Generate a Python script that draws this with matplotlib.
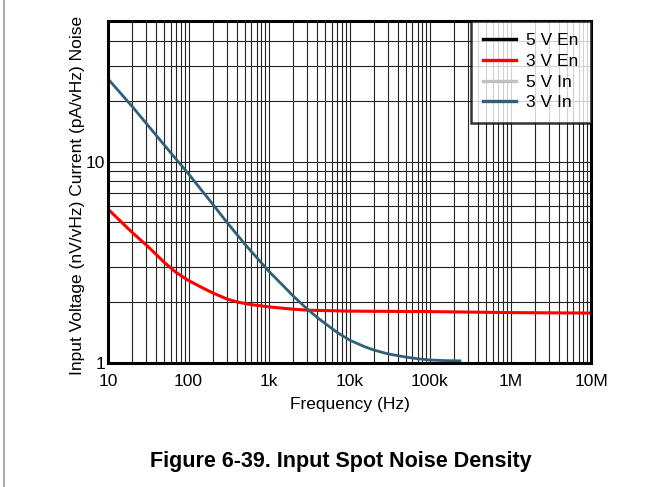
import matplotlib
matplotlib.use("Agg")
import matplotlib.pyplot as plt
from matplotlib.lines import Line2D
from matplotlib.ticker import FixedLocator, LogLocator, NullFormatter

plt.rcParams['font.family'] = ['Liberation Sans', 'DejaVu Sans']

# curves
f_en3 = [10, 15, 20, 30, 40, 50, 70, 100, 150, 200, 300, 400, 600, 1000, 2000, 3000,
         10000, 100000, 1e6, 1e7]
en_3v = [5.82, 4.97, 4.45, 3.85, 3.45, 3.16, 2.82, 2.57, 2.36, 2.23, 2.08, 2.01, 1.95,
         1.90, 1.85, 1.83, 1.81, 1.80, 1.78, 1.77]

f_in3 = [10, 20, 50, 100, 200, 300, 500, 700, 1000, 1500, 2000, 3000, 4000, 5000, 7000,
         10000, 15000, 20000, 30000, 50000, 70000, 100000, 150000, 235000]
in_3v = [25.8, 18.8, 12.1, 8.7, 6.15, 5.0, 3.9, 3.35, 2.85, 2.42, 2.15, 1.85, 1.68, 1.57,
         1.42, 1.30, 1.21, 1.16, 1.11, 1.07, 1.05, 1.035, 1.028, 1.025]

# 5 V curves are hidden under the 3 V ones in the picture
f_en5, en_5v = [], []
f_in5, in_5v = [], []

x_ticks = [10, 100, 1e3, 1e4, 1e5, 1e6, 1e7]
x_labels = ['10', '100', '1k', '10k', '100k', '1M', '10M']
y_ticks = [1, 10]
y_labels = ['1', '10']

fig = plt.figure(figsize=(6.61, 4.87), dpi=100)
ax = fig.add_axes([108/661, 1-363/487, 483/661, 342/487])

ax.plot(f_en5, en_5v, color='black', lw=2.2, label='5 V En')
ax.plot(f_en3, en_3v, color='#FF0000', lw=2.2, label='3 V En')
ax.plot(f_in5, in_5v, color='#C0C0C0', lw=2.2, label='5 V In')
ax.plot(f_in3, in_3v, color='#2E6077', lw=2.0, label='3 V In')

ax.set_xscale('log')
ax.set_yscale('log')
ax.set_xlim(10, 1e7)
ax.set_ylim(1, 50)

ax.xaxis.set_major_locator(FixedLocator(x_ticks))
ax.set_xticklabels(x_labels)
ax.xaxis.set_minor_locator(LogLocator(base=10, subs=range(2, 10), numticks=20))
ax.xaxis.set_minor_formatter(NullFormatter())
ax.yaxis.set_major_locator(FixedLocator(y_ticks))
ax.set_yticklabels(y_labels)
ax.yaxis.set_minor_locator(LogLocator(base=10, subs=range(2, 10), numticks=20))
ax.yaxis.set_minor_formatter(NullFormatter())

ax.grid(True, which='both', color='#222222', lw=0.8)
ax.set_axisbelow(True)
ax.tick_params(which='both', length=0, labelsize=12.5)
ax.tick_params(axis='x', pad=8)
ax.tick_params(axis='y', pad=2)
for s in ax.spines.values():
    s.set_linewidth(2.2)

leg = ax.legend(loc='upper right', borderaxespad=0, fontsize=12.5, frameon=True,
                fancybox=False, handlelength=1.9, handletextpad=0.6,
                labelspacing=0.32, borderpad=0.7)
leg.get_frame().set_edgecolor('black')
leg.get_frame().set_linewidth(1.8)
for l in leg.get_lines():
    l.set_linewidth(2.4)

fig.text(78/661, 1-195/487, 'Input Voltage (nV/vHz) Current (pA/vHz) Noise',
         rotation=90, ha='center', va='center', fontsize=12.5)
fig.text(349.5/661, 1-405/487, 'Frequency (Hz)', ha='center', va='center', fontsize=12.5)
fig.text(341/661, 1-462/487, 'Figure 6-39. Input Spot Noise Density',
         ha='center', va='center', fontsize=15.5, fontweight='bold')

# page border on the left
fig.add_artist(Line2D([4/661, 4/661], [0, 1], color='#999999', lw=1.2))

fig.savefig('out.png', dpi=100)
